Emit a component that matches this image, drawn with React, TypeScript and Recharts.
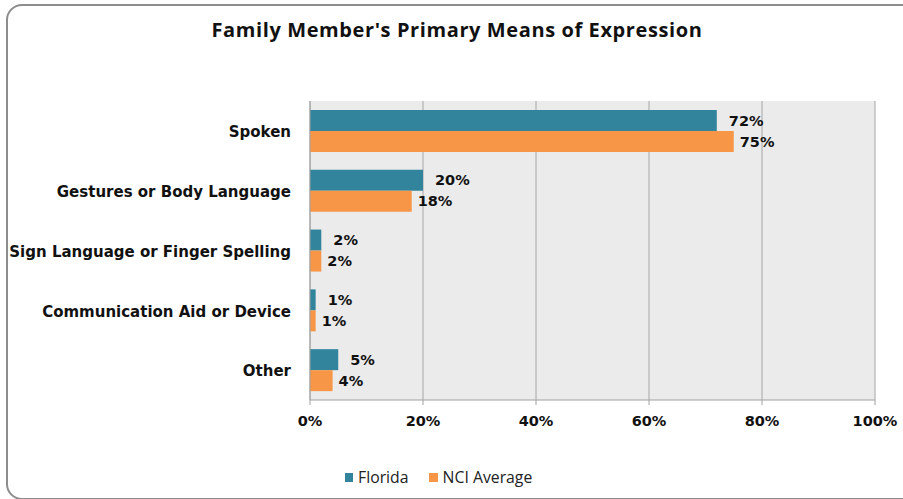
import React from 'react';
import { BarChart, Bar, CartesianGrid, LabelList, XAxis, YAxis } from 'recharts';

const categories = [
  'Spoken',
  'Gestures or Body Language',
  'Sign Language or Finger Spelling',
  'Communication Aid or Device',
  'Other',
];
const florida = [72, 20, 2, 1, 5];
const nciAverage = [75, 18, 2, 1, 4];
const xTicks = [0, 20, 40, 60, 80, 100];

const FLORIDA = '#31849b';
const NCI = '#f79646';
const LABEL_FONT = '"DejaVu Sans", Verdana, sans-serif';

const rows = categories.map((name, i) => ({
  name,
  florida: florida[i],
  nci: nciAverage[i],
}));

export default function App() {
  return (
    <div
      style={{
        position: 'fixed',
        left: 0,
        top: 0,
        width: 903,
        height: 499,
        overflow: 'hidden',
        background: '#fff',
      }}
    >
      <div
        style={{
          position: 'absolute',
          left: 6,
          top: 4,
          width: 912,
          height: 492,
          border: '2px solid #8d8d8d',
          borderRadius: 16,
        }}
      />
      <div
        style={{
          position: 'absolute',
          top: 16,
          left: 0,
          width: 914,
          textAlign: 'center',
          fontFamily: '"Open Sans", sans-serif',
          fontWeight: 700,
          fontSize: 20,
          letterSpacing: 0.6,
          color: '#111',
        }}
      >
        Family Member's Primary Means of Expression
      </div>
      <div style={{ position: 'absolute', left: 0, top: 0 }}>
        <BarChart
          width={903}
          height={499}
          data={rows}
          layout="vertical"
          margin={{ top: 101, right: 28, left: 10, bottom: 69 }}
          barCategoryGap="15%"
          barGap={0}
        >
          <CartesianGrid horizontal={false} stroke="#a6a6a6" fill="#ebebeb" />
          <XAxis
            type="number"
            domain={[0, 100]}
            ticks={xTicks}
            tickFormatter={(v) => `${v}%`}
            height={30}
            tickSize={5}
            tickMargin={11}
            interval={0}
            axisLine={{ stroke: '#a0a0a0' }}
            tickLine={{ stroke: '#a0a0a0' }}
            tick={{ fill: '#111', fontSize: 14.5, fontWeight: 700, fontFamily: LABEL_FONT }}
          />
          <YAxis
            type="category"
            dataKey="name"
            width={300}
            tickLine={false}
            tickMargin={13}
            axisLine={{ stroke: '#a0a0a0' }}
            tick={{ fill: '#111', fontSize: 15, fontWeight: 700, fontFamily: LABEL_FONT, dy: 1 }}
          />
          <YAxis
            yAxisId="bounds"
            type="number"
            domain={[0, categories.length]}
            ticks={[0, 1, 2, 3, 4, 5]}
            width={0}
            tick={false}
            tickSize={5}
            axisLine={false}
            tickLine={{ stroke: '#a0a0a0' }}
          />
          <Bar dataKey="florida" name="Florida" fill={FLORIDA} isAnimationActive={false}>
            <LabelList
              dataKey="florida"
              position="right"
              offset={12}
              formatter={(v: number) => `${v}%`}
              style={{ fill: '#111', fontSize: 14.5, fontWeight: 700, fontFamily: LABEL_FONT }}
            />
          </Bar>
          <Bar dataKey="nci" name="NCI Average" fill={NCI} isAnimationActive={false}>
            <LabelList
              dataKey="nci"
              position="right"
              offset={6}
              formatter={(v: number) => `${v}%`}
              style={{ fill: '#111', fontSize: 14.5, fontWeight: 700, fontFamily: LABEL_FONT }}
            />
          </Bar>
        </BarChart>
      </div>
      <div
        style={{
          position: 'absolute',
          top: 466,
          left: 345,
          display: 'flex',
          alignItems: 'center',
          fontFamily: '"Open Sans", sans-serif',
          fontSize: 15.8,
          color: '#222',
        }}
      >
        <span style={{ width: 8, height: 9, background: FLORIDA, marginRight: 5 }} />
        <span style={{ marginRight: 20 }}>Florida</span>
        <span style={{ width: 9, height: 9, background: NCI, marginRight: 5 }} />
        <span>NCI Average</span>
      </div>
    </div>
  );
}
